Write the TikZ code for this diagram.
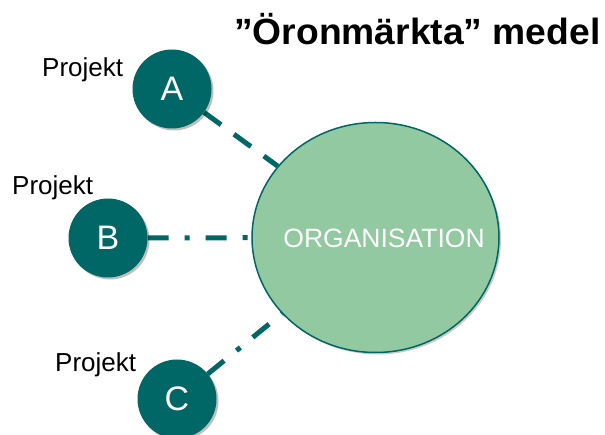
\documentclass[tikz,border=0pt]{standalone}
\usepackage{fontspec}
\setmainfont{Liberation Sans}
\usetikzlibrary{shapes.geometric,shadows,backgrounds}
\definecolor{teal1}{RGB}{0,102,102}
\definecolor{lgreen}{RGB}{146,201,160}
\tikzset{
  proj/.style={circle,fill=teal1,minimum size=79pt,inner sep=0pt,text=white,
    font=\fontsize{34}{34}\selectfont,
    drop shadow={shadow xshift=2pt,shadow yshift=-2pt,opacity=0.25,fill=black}},
  org/.style={ellipse,fill=lgreen,draw=teal1,line width=1.5pt,minimum width=247pt,minimum height=230pt,inner sep=0pt,
    drop shadow={shadow xshift=2pt,shadow yshift=-2pt,opacity=0.2,fill=black}},
  plabel/.style={anchor=base west,inner sep=0pt,font=\fontsize{26}{26}\selectfont},
  conn/.style={teal1,line width=5pt},
  dashA/.style={dash pattern=on 21pt off 16pt},
  dashB/.style={dash pattern=on 21pt off 16pt on 5pt off 16pt}
}
\begin{document}
\begin{tikzpicture}[x=1pt,y=-1pt]
\useasboundingbox (0,0) rectangle (605,435);
\node[org] (o) at (375.5,237.5) {};
\node[text=white,font=\fontsize{26.5}{26.5}\selectfont] (ot) at (384,238) {ORGANISATION};
\node[proj] (a) at (172,89) {A};
\node[proj] (b) at (108,238) {B};
\node[proj] (c) at (177,399) {C};
\node[anchor=base west,inner sep=0pt,xscale=1.02,transform shape,font=\bfseries\fontsize{36.5}{36.5}\selectfont] (t) at (234,45) {”Öronmärkta” medel};
\node[plabel] (pa) at (42,77) {Projekt};
\node[plabel] (pb) at (12,195) {Projekt};
\node[plabel] (pc) at (55,372) {Projekt};
\begin{scope}[on background layer]
\draw[conn,dashA] (a) -- (o);
\draw[conn,dashB] (b) -- (o);
\draw[conn,dashB] (c) -- (o);
\end{scope}
\end{tikzpicture}
\end{document}
